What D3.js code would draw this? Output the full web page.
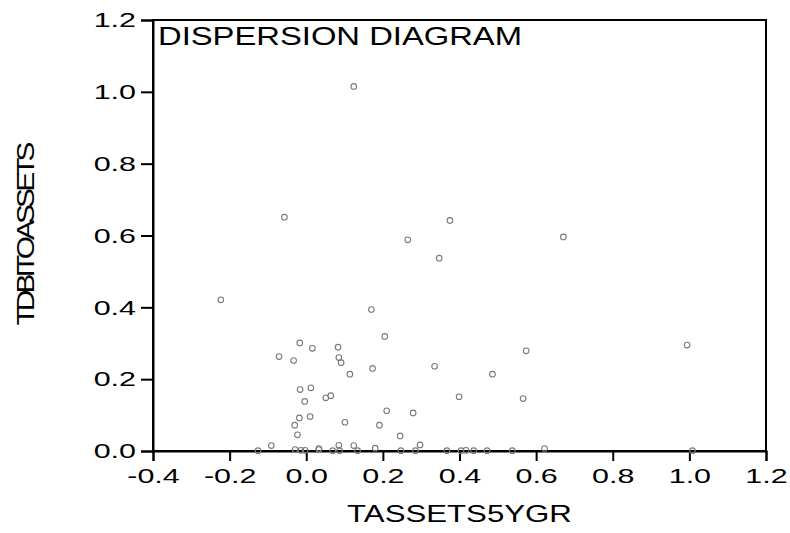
<!DOCTYPE html>
<html><head><meta charset="utf-8">
<script src="https://cdn.jsdelivr.net/npm/d3@7"></script>
<style>body{margin:0;background:#fff}svg{display:block}text{font-family:"Liberation Sans",Arial,sans-serif}</style>
</head><body>
<script>
const xValues = [0.124,-0.057,0.375,0.265,0.671,0.347,-0.223,0.170,0.205,-0.017,0.016,0.083,-0.071,-0.033,0.085,0.091,0.574,0.994,0.173,0.335,0.114,0.486,-0.016,0.012,0.051,0.064,-0.004,0.399,0.566,0.210,0.279,-0.018,0.010,0.101,-0.030,0.191,-0.023,0.245,-0.091,-0.126,-0.029,-0.014,-0.003,0.033,0.033,0.069,0.085,0.087,0.124,0.134,0.180,0.247,0.285,0.297,0.367,0.404,0.417,0.437,0.472,0.538,0.622,1.008];
const yValues = [1.015,0.651,0.642,0.588,0.596,0.537,0.421,0.394,0.319,0.301,0.286,0.289,0.263,0.252,0.260,0.246,0.279,0.295,0.230,0.236,0.214,0.214,0.171,0.176,0.148,0.154,0.138,0.151,0.146,0.112,0.106,0.092,0.096,0.080,0.072,0.072,0.045,0.042,0.015,0.001,0.004,0.002,0.002,0.007,0.004,0.001,0.016,0.001,0.015,0.001,0.008,0.001,0.001,0.017,0.001,0.001,0.002,0.001,0.001,0.001,0.007,0.001];
const xTicks = [-0.4,-0.2,0.0,0.2,0.4,0.6,0.8,1.0,1.2];
const yTicks = [0.0,0.2,0.4,0.6,0.8,1.0,1.2];
const title = "DISPERSION DIAGRAM";
const xLabel = "TASSETS5YGR";
const yLabel = "TDBITOASSETS";

const W = 790, H = 533;
const L = 153, R = 766, T = 20, B = 451;
const stretch = 1.45;
const svg = d3.select("body").append("svg").attr("width", W).attr("height", H);
const x = d3.scaleLinear().domain([-0.4, 1.2]).range([L, R]);
const y = d3.scaleLinear().domain([0, 1.2]).range([B, T]);

svg.append("rect").attr("x", L).attr("y", T).attr("width", R - L).attr("height", B - T)
  .attr("fill", "none").attr("stroke", "#000").attr("stroke-width", 2);

const fmt = d => d3.format(".1f")(d).replace("\u2212", "-");
const gx = svg.append("g").attr("transform", `translate(0,${B})`)
  .call(d3.axisBottom(x).tickValues(xTicks).tickFormat(fmt).tickSize(10).tickPadding(7));
const gy = svg.append("g").attr("transform", `translate(${L},0)`)
  .call(d3.axisLeft(y).tickValues(yTicks).tickFormat(fmt).tickSize(12).tickPadding(5));
[gx, gy].forEach(g => {
  g.select(".domain").attr("stroke", "#000").attr("stroke-width", 2);
  g.selectAll(".tick line").attr("stroke", "#000").attr("stroke-width", 2);
  g.selectAll(".tick text").attr("fill", "#000").style("font-size", "21px")
    .style("font-family", '"Liberation Sans",Arial,sans-serif');
  g.selectAll(".tick text").each(function () {
    const w = this.getComputedTextLength();
    d3.select(this).attr("textLength", w * stretch).attr("lengthAdjust", "spacingAndGlyphs");
  });
});

svg.append("g").selectAll("circle").data(xValues.map((v, i) => [v, yValues[i]])).join("circle")
  .attr("cx", d => x(d[0])).attr("cy", d => y(d[1])).attr("r", 2.8)
  .attr("fill", "none").attr("stroke", "#7a7a7a").attr("stroke-width", 1.1);

svg.append("text").attr("x", L + 5).attr("y", 45).text(title)
  .style("font-size", "25px").attr("fill", "#000")
  .attr("textLength", 364).attr("lengthAdjust", "spacingAndGlyphs");

const xt = svg.append("text").attr("x", (L + R) / 2).attr("y", 522).attr("text-anchor", "middle")
  .text(xLabel).style("font-size", "24px").attr("fill", "#000");
xt.attr("textLength", xt.node().getComputedTextLength() * 1.3).attr("lengthAdjust", "spacingAndGlyphs");

svg.append("text").attr("transform", `translate(34,${(T + B) / 2}) rotate(-90) scale(1.3,1)`)
  .attr("text-anchor", "middle").text(yLabel).style("font-size", "23px")
  .style("letter-spacing", "-3px").attr("fill", "#000");
</script>
</body></html>
